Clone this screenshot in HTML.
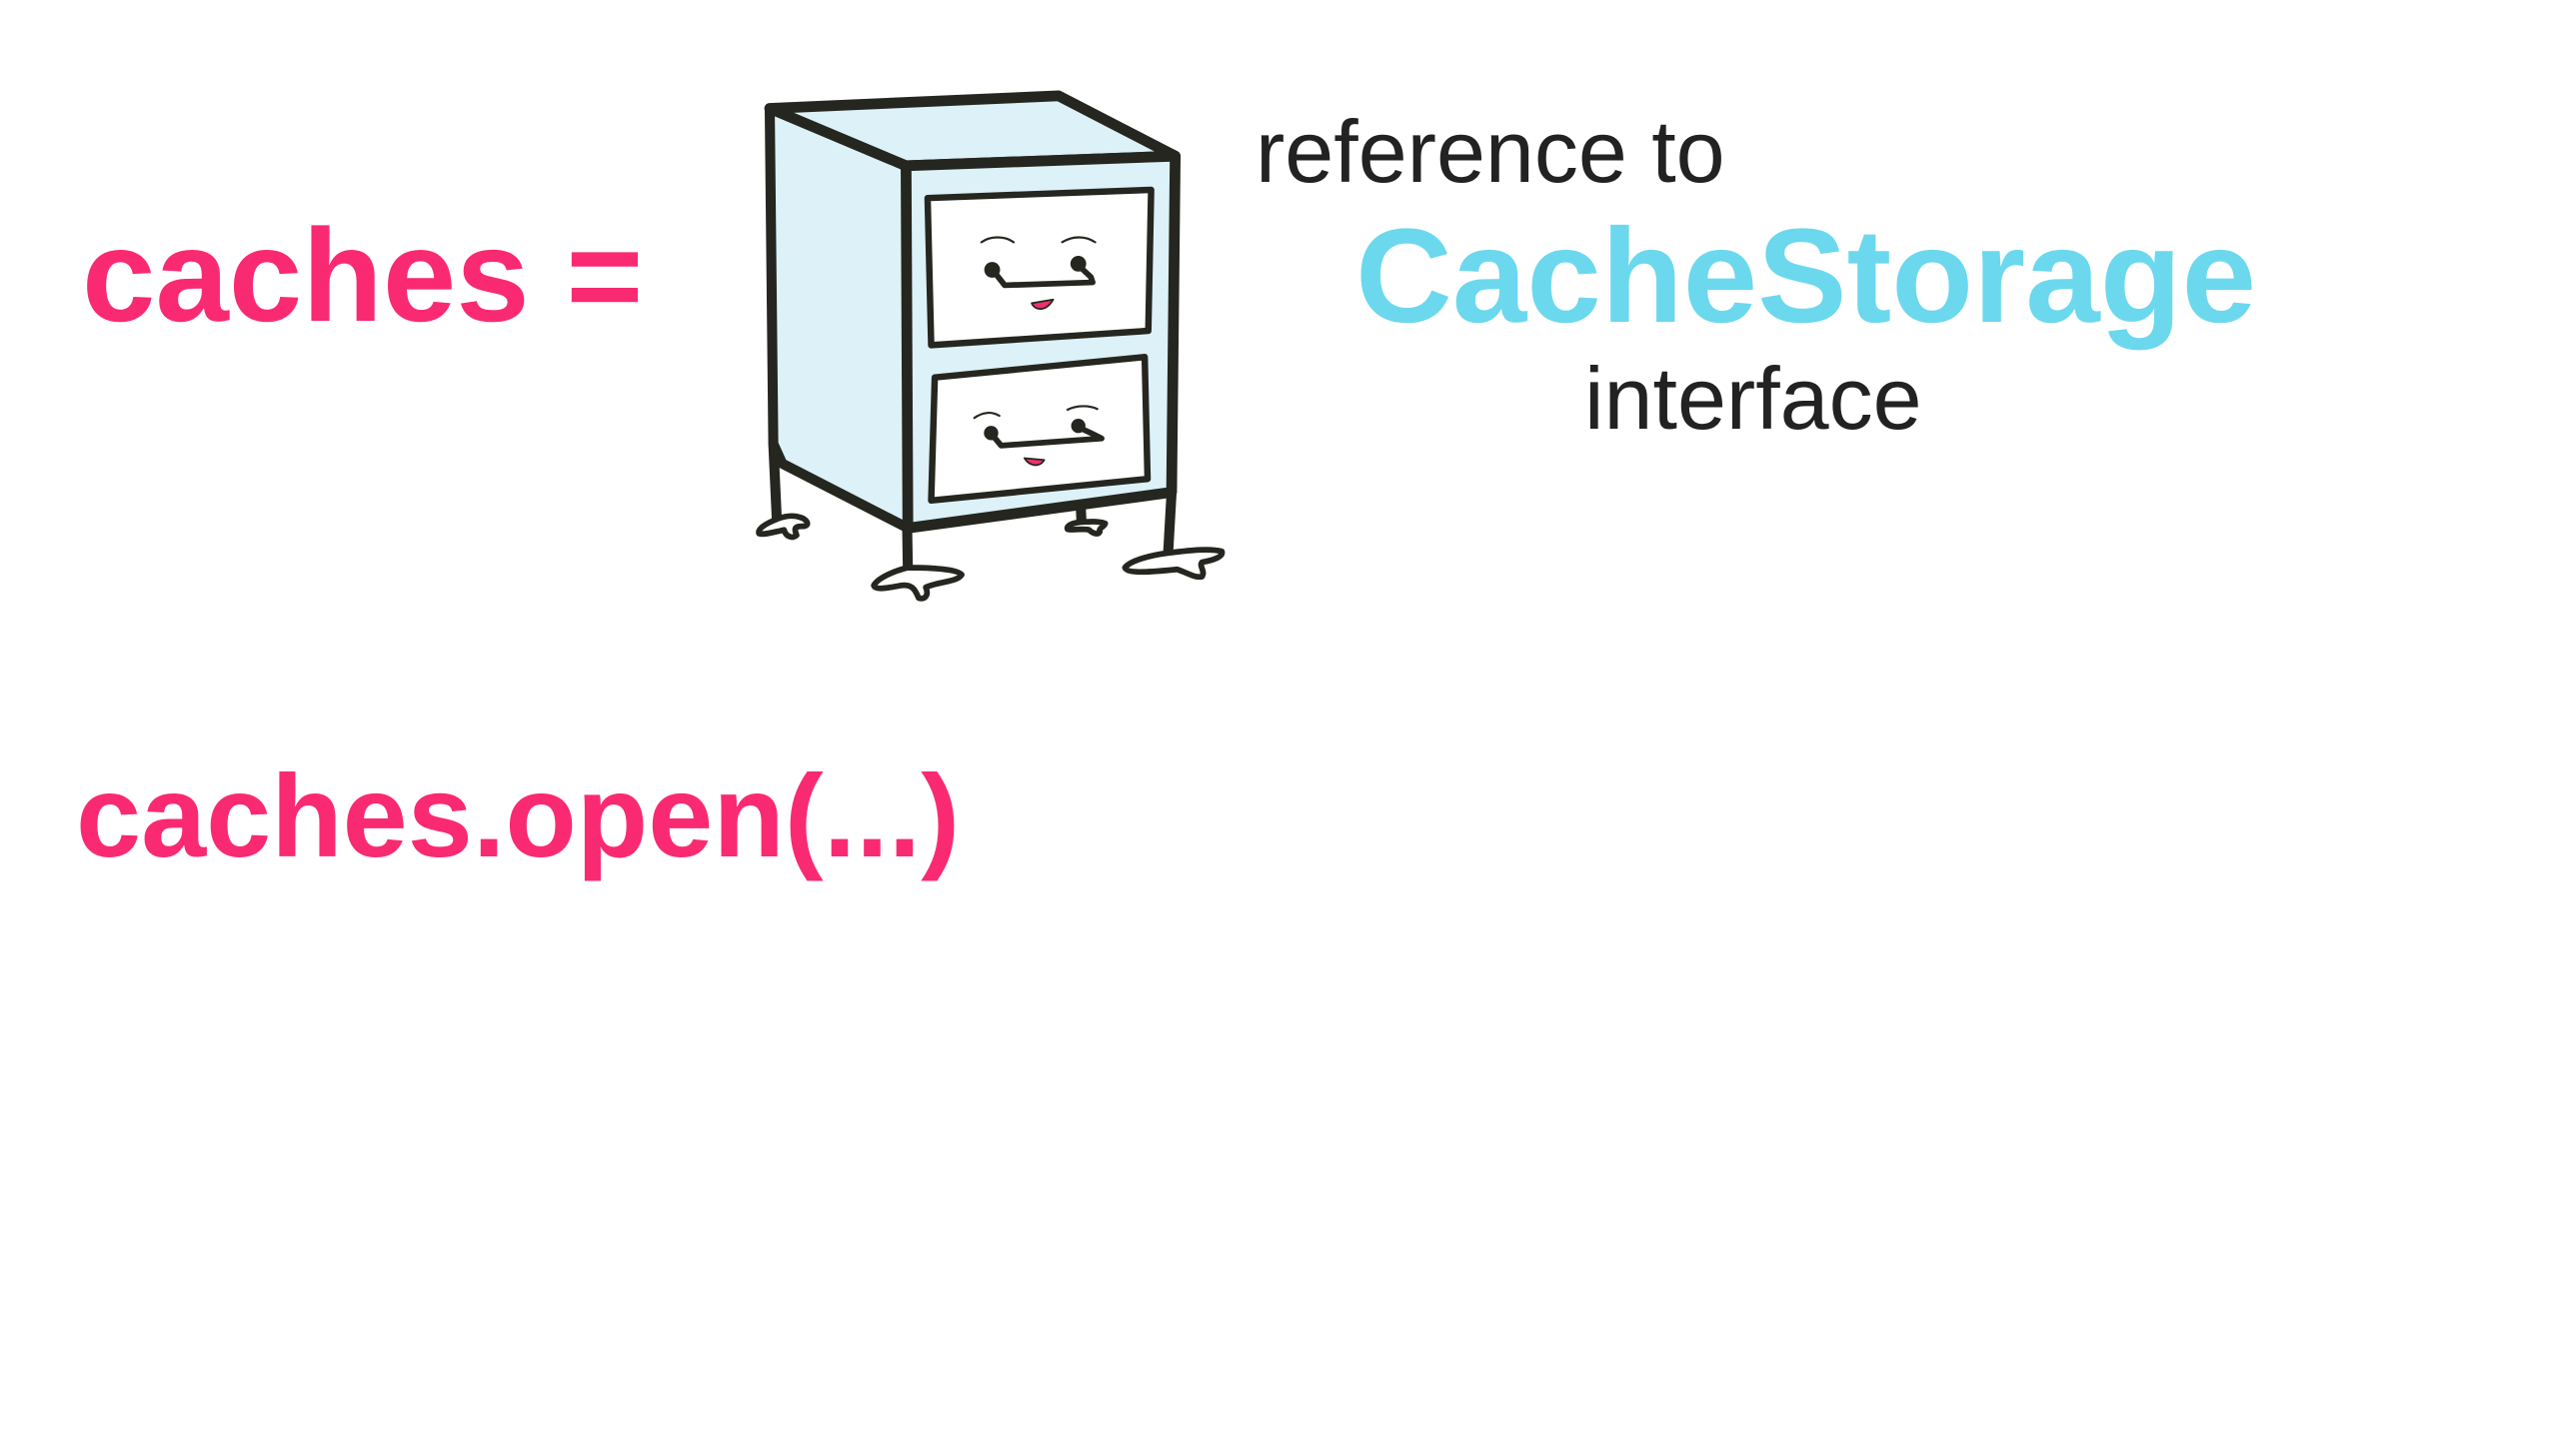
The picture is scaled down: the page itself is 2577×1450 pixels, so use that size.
<!DOCTYPE html>
<html><head><meta charset="utf-8"><style>
html,body{margin:0;padding:0;background:#fff;}
body{width:2577px;height:1450px;position:relative;overflow:hidden;font-family:"Liberation Sans",sans-serif;}
.t{position:absolute;white-space:nowrap;line-height:1;}
</style></head><body>
<div class="t" style="left:82px;top:210px;font-size:132px;font-weight:bold;color:#F92A72;">caches =</div>
<div class="t" style="left:76px;top:758px;font-size:117px;font-weight:bold;color:#F92A72;">caches.open(...)</div>
<div class="t" style="left:1256px;top:108px;font-size:88px;color:#222;">reference to</div>
<div class="t" style="left:1356px;top:210px;font-size:134px;font-weight:bold;color:#6BD8EE;">CacheStorage</div>
<div class="t" style="left:1585px;top:355px;font-size:88px;color:#222;">interface</div>
<svg style="position:absolute;left:700px;top:60px" width="560" height="560" viewBox="0 0 1560 1560">
<g stroke="#25261f" stroke-linejoin="round" stroke-linecap="round">
<polygon points="195,135 575,295 580,1305 230,1125 205,1070" fill="#DCF1F8" stroke-width="28"/>
<polygon points="195,135 1000,100 1325,268 575,295" fill="#DCF1F8" stroke-width="30"/>
<polygon points="575,295 1325,268 1315,1205 580,1305" fill="#DCF1F8" stroke-width="30"/>
<polygon points="635,385 1258,362 1250,755 645,795" fill="#fff" stroke-width="18"/>
<polygon points="655,885 1240,828 1248,1168 645,1228" fill="#fff" stroke-width="18"/>
<g stroke-width="28" fill="none">
<line x1="205" y1="1070" x2="215" y2="1285"/>
<line x1="578" y1="1305" x2="580" y2="1420"/>
<line x1="1315" y1="1205" x2="1305" y2="1380"/>
<line x1="1062" y1="1250" x2="1064" y2="1290"/>
</g>
<g stroke-width="16" fill="#fff">
<path d="M215,1280 C190,1290 160,1305 165,1320 C180,1325 210,1315 235,1310 C240,1330 260,1335 270,1325 C265,1310 260,1300 285,1300 C310,1300 300,1280 280,1275 C260,1268 235,1272 215,1280Z"/>
<path d="M580,1415 C540,1425 495,1445 485,1465 C490,1480 530,1470 560,1465 C590,1460 600,1475 610,1500 C625,1505 640,1495 630,1470 C660,1455 720,1455 730,1435 C720,1420 650,1415 580,1415Z"/>
<path d="M1300,1375 C1260,1380 1200,1395 1185,1415 C1190,1435 1280,1425 1330,1420 C1360,1430 1380,1445 1400,1440 C1410,1425 1390,1410 1400,1400 C1430,1395 1460,1385 1455,1370 C1420,1360 1360,1368 1300,1375Z"/>
<path d="M1064,1288 C1040,1290 1020,1298 1025,1308 C1040,1312 1070,1305 1085,1310 C1095,1320 1110,1325 1115,1315 C1110,1305 1130,1300 1130,1292 C1110,1285 1085,1287 1064,1288Z"/>
</g>
<g fill="none" stroke-width="6">
<path d="M785,508 C810,490 850,490 875,508"/><path d="M1010,508 C1040,490 1075,490 1102,508"/>
<path d="M765,998 C790,980 815,980 835,992"/><path d="M1025,975 C1050,962 1085,962 1108,973"/>
</g>
<g fill="#25261f" stroke="none">
<circle cx="815" cy="585" r="22"/><circle cx="1055" cy="568" r="22"/>
<circle cx="812" cy="1040" r="20"/><circle cx="1055" cy="1020" r="20"/>
</g>
<g fill="none" stroke-width="16">
<path d="M820,590 L850,628 L1095,620 L1090,605 L1058,575"/>
<path d="M815,1045 L840,1075 L1120,1055 L1090,1040 L1058,1025"/>
</g>
<path d="M925,678 C935,700 965,702 985,668 Z" fill="#F0306E" stroke-width="5"/>
<path d="M905,1110 C920,1135 950,1135 960,1115 Z" fill="#F0306E" stroke-width="5"/>
</g>
</svg>
</body></html>
